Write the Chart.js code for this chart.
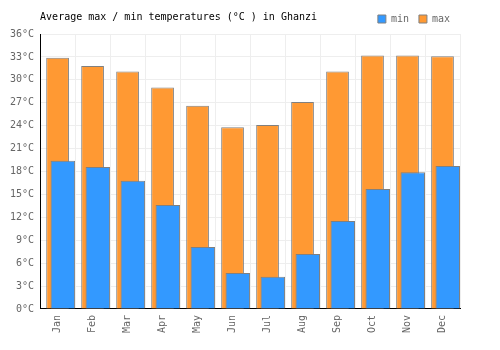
<!DOCTYPE html>
<html>
<head>
<meta charset="utf-8">
<script src="https://cdn.jsdelivr.net/npm/chart.js@4"></script>
<style>
    html, body { margin: 0; padding: 0; background: #fff; }
    #wrap { width: 500px; height: 350px; }
</style>
</head>
<body>
<div id="wrap"><canvas id="tempChart" width="500" height="350"></canvas></div>
<script>
// Chart data
const chartTitle = 'Average max / min temperatures (°C ) in Ghanzi';
const months = ['Jan', 'Feb', 'Mar', 'Apr', 'May', 'Jun', 'Jul', 'Aug', 'Sep', 'Oct', 'Nov', 'Dec'];
const minTemps = [19.4, 18.6, 16.8, 13.6, 8.1, 4.7, 4.2, 7.2, 11.5, 15.7, 17.9, 18.7];
const maxTemps = [32.9, 31.8, 31.1, 29.0, 26.6, 23.8, 24.1, 27.1, 31.1, 33.2, 33.2, 33.1];
const yTicks = [0, 3, 6, 9, 12, 15, 18, 21, 24, 27, 30, 33, 36];
const tickUnit = '°C';

const FONT = 'DejaVu Sans Mono';

/**
 * Draw the title on the same row as the legend, aligned with the plot
 */
const titlePlugin = {
    id: 'rowTitle',
    afterDraw(chart) {
        const ctx = chart.ctx;
        ctx.save();
        ctx.font = `10px "${FONT}"`;
        ctx.fillStyle = '#000';
        ctx.textBaseline = 'middle';
        ctx.textAlign = 'left';
        ctx.fillText(chartTitle, chart.chartArea.left, 17);
        ctx.restore();
    }
};

// min bars sit a little right of the category centre
const minShift = 0.15;

const ctx = document.getElementById('tempChart').getContext('2d');
new Chart(ctx, {
    type: 'bar',
    data: {
        labels: months,
        datasets: [{
            label: 'min',
            data: minTemps.map((v, i) => ({ x: i, y: v })),
            xAxisID: 'x2',
            grouped: false,
            backgroundColor: '#3399ff',
            borderColor: '#808080',
            borderWidth: 1,
            categoryPercentage: 1,
            barPercentage: 0.7
        }, {
            label: 'max',
            data: maxTemps,
            xAxisID: 'x',
            grouped: false,
            backgroundColor: '#ff9933',
            borderColor: '#808080',
            borderWidth: 1,
            categoryPercentage: 1,
            barPercentage: 0.65
        }]
    },
    options: {
        responsive: false,
        animation: false,
        layout: {
            padding: { top: 4, left: 4, right: 40, bottom: 11 }
        },
        plugins: {
            legend: {
                position: 'top',
                align: 'end',
                labels: {
                    boxWidth: 8,
                    boxHeight: 8,
                    padding: 10,
                    color: '#666',
                    font: { family: FONT, size: 10 }
                }
            },
            tooltip: { enabled: false }
        },
        scales: {
            x: {
                type: 'category',
                offset: true,
                grid: { offset: true, color: '#eeeeee', drawTicks: false },
                border: { color: '#000', width: 1 },
                ticks: {
                    color: '#666',
                    font: { family: FONT, size: 10 },
                    maxRotation: 90,
                    minRotation: 90,
                    padding: 6
                }
            },
            x2: {
                type: 'linear',
                display: false,
                offset: false,
                min: -0.5 - minShift,
                max: months.length - 0.5 - minShift,
                grid: { display: false }
            },
            y: {
                min: yTicks[0],
                max: yTicks[yTicks.length - 1],
                grid: { color: '#eeeeee', drawTicks: false },
                border: { color: '#000', width: 1 },
                afterBuildTicks: (axis) => {
                    axis.ticks = yTicks.map(v => ({ value: v }));
                },
                ticks: {
                    color: '#666',
                    font: { family: FONT, size: 10 },
                    padding: 6,
                    callback: (v) => v + tickUnit
                }
            }
        }
    },
    plugins: [titlePlugin]
});
</script>
</body>
</html>
